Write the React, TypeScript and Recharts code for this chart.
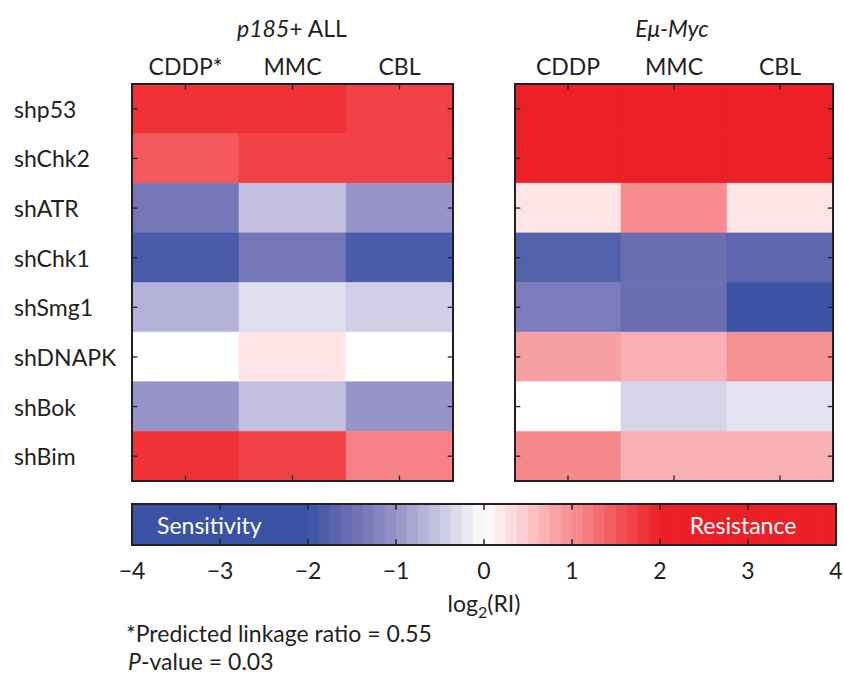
import React from 'react';
import { XAxis, YAxis, ComposedChart, ReferenceArea, ReferenceLine } from 'recharts';

// ---------- data ----------
const GENES = ['shp53', 'shChk2', 'shATR', 'shChk1', 'shSmg1', 'shDNAPK', 'shBok', 'shBim'];
const DRUGS_P185 = ['CDDP*', 'MMC', 'CBL'];
const DRUGS_MYC = ['CDDP', 'MMC', 'CBL'];

// log2(RI) values, one entry per gene (same order as GENES)
const P185_CDDP = [1.84, 1.5, -1.4, -1.85, -0.7, 0, -1.0, 1.84];
const P185_MMC = [1.84, 1.7, -0.55, -1.4, -0.28, 0.24, -0.55, 1.7];
const P185_CBL = [1.7, 1.7, -1.0, -1.85, -0.42, 0, -1.0, 1.12];
const MYC_CDDP = [2.5, 2.5, 0.24, -1.75, -1.3, 0.85, 0, 1.07];
const MYC_MMC = [2.5, 2.5, 1.05, -1.5, -1.5, 0.7, -0.38, 0.7];
const MYC_CBL = [2.5, 2.5, 0.24, -1.65, -2.2, 1.0, -0.25, 0.7];

const COLORBAR_TICKS = [-4, -3, -2, -1, 0, 1, 2, 3, 4];
const COLORBAR_STEP = 0.125;

// ---------- style ----------
const FONT = 'Lato, "Open Sans", sans-serif';
const INK = '#231f20';
const FS = 23;

const BLUE_STOPS: [number, number[]][] = [
  [0, [255, 255, 255]],
  [0.5, [200, 198, 226]],
  [1, [150, 148, 200]],
  [1.5, [108, 110, 178]],
  [2, [58, 83, 165]],
];
const RED_END = [237, 32, 39];

function rgb(c: number[]) {
  return `rgb(${Math.round(c[0])},${Math.round(c[1])},${Math.round(c[2])})`;
}

function colorOf(v: number) {
  const a = Math.min(2, Math.abs(v));
  if (v >= 0) {
    const t = a / 2;
    return rgb([0, 1, 2].map((k) => 255 + (RED_END[k] - 255) * t));
  }
  for (let i = 1; i < BLUE_STOPS.length; i++) {
    const [p0, c0] = BLUE_STOPS[i - 1];
    const [p1, c1] = BLUE_STOPS[i];
    if (a <= p1) {
      const t = (a - p0) / (p1 - p0);
      return rgb([0, 1, 2].map((k) => c0[k] + (c1[k] - c0[k]) * t));
    }
  }
  return rgb(BLUE_STOPS[BLUE_STOPS.length - 1][1]);
}

const PLOT_TOP = 84;
const PLOT_BOT = 481;
const H = 500;

type HeatProps = {
  drugs: string[];
  columns: number[][];
  width: number;
  leftW: number;
  rightW: number;
  showGenes: boolean;
};

function Heatmap({ drugs, columns, width, leftW, rightW, showGenes }: HeatProps) {
  const nC = drugs.length;
  const nR = GENES.length;
  const colTicks = drugs.map((_, j) => j + 0.5);
  const rowTicks = GENES.map((_, i) => i + 0.5);
  const data = colTicks.map((x) => ({ x }));
  const tx = 0.05; // inward tick length in column units
  const ty = 0.11; // inward tick length in row units

  const topTick = (p: any) => (
    <text x={p.x} y={66} textAnchor="middle" dominantBaseline="central" fontSize={FS} fill={INK} fontFamily={FONT}>
      {drugs[Math.floor(p.payload.value)]}
    </text>
  );
  const leftTick = (p: any) => (
    <text x={14} y={p.y} textAnchor="start" dominantBaseline="central" fontSize={FS} fill={INK} fontFamily={FONT}>
      {GENES[Math.floor(p.payload.value)]}
    </text>
  );

  const cells: React.ReactNode[] = [];
  columns.forEach((col, j) =>
    col.forEach((v, i) => {
      const c = colorOf(v);
      cells.push(
        <ReferenceArea key={`c${i}-${j}`} x1={j} x2={j + 1} y1={i} y2={i + 1} fill={c} fillOpacity={1} stroke={c} strokeWidth={0.6} ifOverflow="visible" />
      );
    })
  );

  return (
    <ComposedChart width={width} height={H} data={data} margin={{ top: 0, right: rightW, bottom: H - PLOT_BOT, left: showGenes ? 0 : leftW }}>
      <XAxis type="number" dataKey="x" orientation="top" domain={[0, nC]} ticks={colTicks} interval={0} height={PLOT_TOP} axisLine={false} tickLine={false} tick={topTick} allowDataOverflow />
      <YAxis type="number" domain={[0, nR]} reversed ticks={rowTicks} interval={0} width={leftW} hide={!showGenes} axisLine={false} tickLine={false} tick={leftTick} allowDataOverflow />
      {cells}
      {colTicks.map((x) => (
        <ReferenceLine key={'tt' + x} segment={[{ x, y: 0 }, { x, y: ty }]} stroke={INK} strokeWidth={1.3} />
      ))}
      {colTicks.map((x) => (
        <ReferenceLine key={'tb' + x} segment={[{ x, y: nR }, { x, y: nR - ty }]} stroke={INK} strokeWidth={1.3} />
      ))}
      {rowTicks.map((y) => (
        <ReferenceLine key={'tl' + y} segment={[{ x: 0, y }, { x: tx, y }]} stroke={INK} strokeWidth={1.3} />
      ))}
      {rowTicks.map((y) => (
        <ReferenceLine key={'tr' + y} segment={[{ x: nC, y }, { x: nC - tx, y }]} stroke={INK} strokeWidth={1.3} />
      ))}
      <ReferenceArea x1={0} x2={nC} y1={0} y2={nR} fill="none" fillOpacity={0} stroke={INK} strokeWidth={2} ifOverflow="visible" />
    </ComposedChart>
  );
}

function ColorBar() {
  const steps: number[] = [];
  for (let v = COLORBAR_TICKS[0]; v < COLORBAR_TICKS[COLORBAR_TICKS.length - 1] - 1e-9; v += COLORBAR_STEP) steps.push(v);
  const data = steps.map((v) => ({ v }));
  const tick = (p: any) => (
    <text x={p.x} y={80} textAnchor="middle" dominantBaseline="central" fontSize={FS} fill={INK} fontFamily={FONT}>
      {String(p.payload.value).replace('-', '\u2212')}
    </text>
  );
  const inner = COLORBAR_TICKS.slice(1, -1);
  return (
    <ComposedChart width={844} height={120} data={data} margin={{ top: 14, right: 8, bottom: 0, left: 132 }}>
      <XAxis type="number" dataKey="v" domain={[-4, 4]} ticks={COLORBAR_TICKS} interval={0} height={65} axisLine={false} tickLine={false} tick={tick} allowDataOverflow />
      <YAxis hide type="number" domain={[0, 1]} allowDataOverflow />
      {steps.map((s) => {
        const c = colorOf(s + COLORBAR_STEP / 2);
        return (
          <ReferenceArea key={s} x1={s} x2={s + COLORBAR_STEP} y1={0} y2={1} fill={c} fillOpacity={1} stroke={c} strokeWidth={0.6} ifOverflow="visible" />
        );
      })}
      {inner.map((t) => (
        <ReferenceLine key={'b' + t} segment={[{ x: t, y: 0 }, { x: t, y: 0.14 }]} stroke={INK} strokeWidth={1.5} />
      ))}
      {inner.map((t) => (
        <ReferenceLine key={'t' + t} segment={[{ x: t, y: 1 }, { x: t, y: 0.86 }]} stroke={INK} strokeWidth={1.5} />
      ))}
      <ReferenceArea x1={-4} x2={4} y1={0} y2={1} fill="none" fillOpacity={0} stroke={INK} strokeWidth={2} ifOverflow="visible" />
    </ComposedChart>
  );
}

const txt: React.CSSProperties = {
  position: 'absolute',
  fontFamily: FONT,
  fontSize: FS,
  color: INK,
  whiteSpace: 'nowrap',
  lineHeight: 1,
};

export default function App() {
  return (
    <div style={{ position: 'absolute', left: 0, top: 0, width: 844, height: 675, background: '#fff', overflow: 'hidden' }}>
      <div style={{ position: 'absolute', left: 0, top: 0 }}>
        <Heatmap drugs={DRUGS_P185} columns={[P185_CDDP, P185_MMC, P185_CBL]} width={470} leftW={132} rightW={17} showGenes />
      </div>
      <div style={{ position: 'absolute', left: 470, top: 0 }}>
        <Heatmap drugs={DRUGS_MYC} columns={[MYC_CDDP, MYC_MMC, MYC_CBL]} width={374} leftW={45} rightW={11} showGenes={false} />
      </div>
      <div style={{ position: 'absolute', left: 0, top: 490 }}>
        <ColorBar />
      </div>

      <div style={{ ...txt, left: 292, top: 28, transform: 'translate(-50%,-50%)' }}>
        <i>p185</i>+ ALL
      </div>
      <div style={{ ...txt, left: 672, top: 28, transform: 'translate(-50%,-50%)' }}>
        <i>Eμ-Myc</i>
      </div>

      <div style={{ ...txt, left: 157, top: 525, transform: 'translateY(-50%)', color: '#fff' }}>Sensitivity</div>
      <div style={{ ...txt, left: 743, top: 525, transform: 'translate(-50%,-50%)', color: '#fff' }}>Resistance</div>

      <div style={{ ...txt, left: 484, top: 603, transform: 'translate(-50%,-50%)' }}>
        log<span style={{ fontSize: 16, position: 'relative', top: 6 }}>2</span>(RI)
      </div>

      <div style={{ ...txt, left: 126, top: 633, transform: 'translateY(-50%)' }}>*Predicted linkage ratio = 0.55</div>
      <div style={{ ...txt, left: 128, top: 661, transform: 'translateY(-50%)' }}>
        <i>P</i>-value = 0.03
      </div>
    </div>
  );
}
